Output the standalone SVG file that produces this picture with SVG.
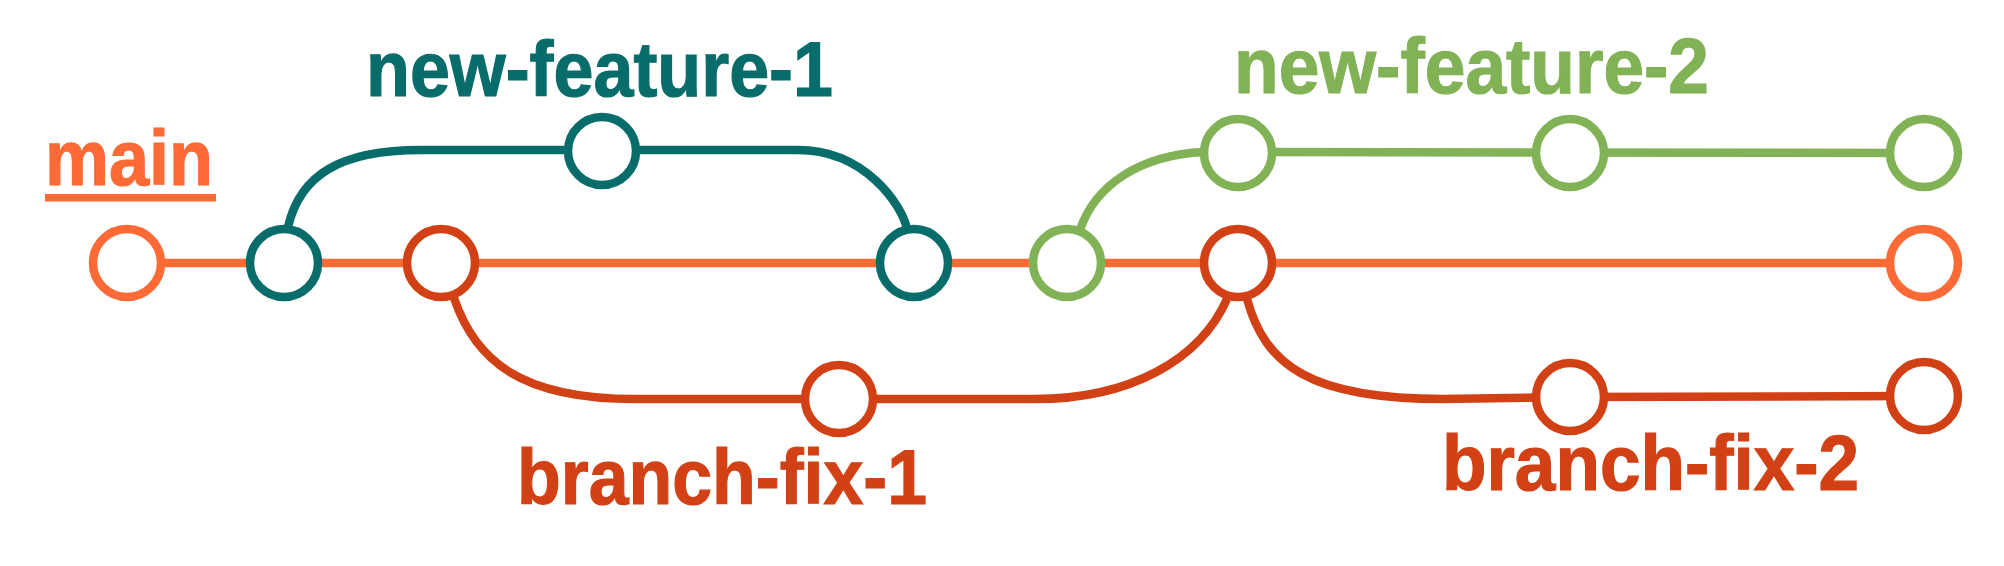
<svg xmlns="http://www.w3.org/2000/svg" width="2004" height="566" viewBox="0 0 2004 566">
<style>
.lbl{font-family:"Liberation Sans",Arial,sans-serif;font-weight:bold;font-size:78px;stroke-width:1.2}
.edge{fill:none;stroke-width:8.5}
.node{fill:#ffffff;stroke-width:8.5}
.main{stroke:#FD6A35}
.teal{stroke:#086C6B}
.green{stroke:#82B256}
.red{stroke:#D24115}
</style>
<rect width="2004" height="566" fill="#ffffff"/>
<g id="connectors">
<line class="edge main" x1="127" y1="263" x2="1924" y2="263"/>
<path class="edge teal" d="M288,227 C300,175 340,150 421,150 L798,150 C865,150 902,205 907,229"/>
<path class="edge green" d="M1080,230 C1095,185 1140,155 1204,152 L1924,153"/>
<path class="edge red" d="M454,298 C475,360 520,399 635,399 L1035,399 C1130,399 1200,360 1227,299"/>
<path class="edge red" d="M1247,299 C1265,365 1310,399 1443,399 L1570,397 L1924,396"/>
</g>
<g id="label-main">
<text class="lbl" x="45" y="185" fill="#FD6A35" stroke="#FD6A35" textLength="168" lengthAdjust="spacingAndGlyphs">main</text>
<rect x="45" y="194" width="171" height="7.5" fill="#FD6A35"/>
</g>
<g id="label-new-feature-1"><text class="lbl" x="366" y="96" fill="#086C6B" stroke="#086C6B" textLength="467" lengthAdjust="spacingAndGlyphs">new-feature-1</text></g>
<g id="label-new-feature-2"><text class="lbl" x="1234" y="93" fill="#82B256" stroke="#82B256" textLength="475" lengthAdjust="spacingAndGlyphs">new-feature-2</text></g>
<g id="label-branch-fix-1"><text class="lbl" x="517" y="504" fill="#D24115" stroke="#D24115" textLength="410" lengthAdjust="spacingAndGlyphs">branch-fix-1</text></g>
<g id="label-branch-fix-2"><text class="lbl" x="1442" y="490" fill="#D24115" stroke="#D24115" textLength="417" lengthAdjust="spacingAndGlyphs">branch-fix-2</text></g>
<g id="main-c1"><circle class="node main" cx="127" cy="263" r="34"/></g>
<g id="nf1-c1"><circle class="node teal" cx="284" cy="263" r="34"/></g>
<g id="bf1-c1"><circle class="node red" cx="441" cy="263" r="34"/></g>
<g id="nf1-c2"><circle class="node teal" cx="602" cy="151" r="34"/></g>
<g id="nf1-c3"><circle class="node teal" cx="914" cy="263" r="34"/></g>
<g id="bf1-c2"><circle class="node red" cx="839" cy="399" r="34"/></g>
<g id="nf2-c1"><circle class="node green" cx="1067" cy="263" r="34"/></g>
<g id="bf2-c1"><circle class="node red" cx="1238" cy="263" r="34"/></g>
<g id="main-c2"><circle class="node main" cx="1924" cy="263" r="34"/></g>
<g id="nf2-c2"><circle class="node green" cx="1238" cy="153" r="34"/></g>
<g id="nf2-c3"><circle class="node green" cx="1570" cy="153" r="34"/></g>
<g id="nf2-c4"><circle class="node green" cx="1924" cy="153" r="34"/></g>
<g id="bf2-c2"><circle class="node red" cx="1570" cy="397" r="34"/></g>
<g id="bf2-c3"><circle class="node red" cx="1924" cy="396" r="34"/></g>
</svg>
